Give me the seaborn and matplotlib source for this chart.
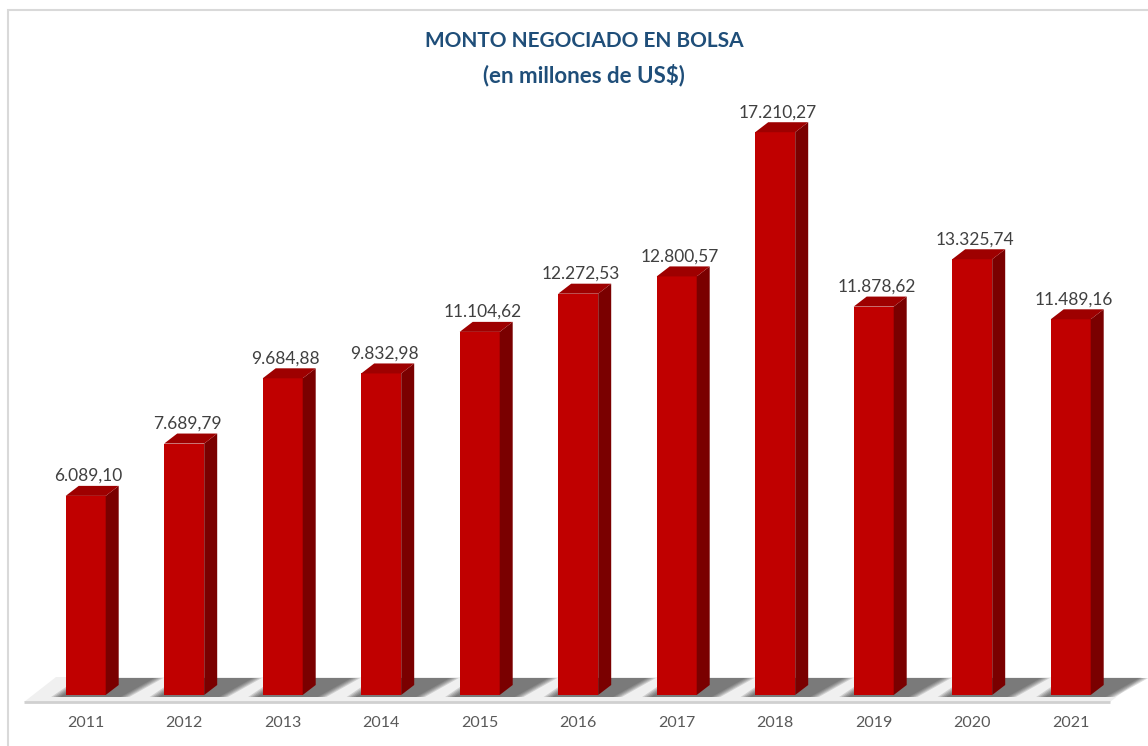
import matplotlib
matplotlib.use("Agg")
import matplotlib.pyplot as plt
import matplotlib.patches as mpatches
import seaborn as sns
import pandas as pd

# Data
years = ["2011", "2012", "2013", "2014", "2015", "2016", "2017", "2018", "2019", "2020", "2021"]
montos = [6089.10, 7689.79, 9684.88, 9832.98, 11104.62, 12272.53, 12800.57,
          17210.27, 11878.62, 13325.74, 11489.16]
labels = ["6.089,10", "7.689,79", "9.684,88", "9.832,98", "11.104,62", "12.272,53",
          "12.800,57", "17.210,27", "11.878,62", "13.325,74", "11.489,16"]

W, H = 1148, 746
PX_X = 98.5      # pixels per category
PX_Y = 0.0327    # pixels per unit
BASE = 51        # baseline, pixels from bottom

FRONT = "#C00000"
SIDE = "#7A0000"
TOP = "#9E0000"

sns.set_theme(style="white")
plt.rcParams["font.family"] = ["Lato", "DejaVu Sans"]

fig = plt.figure(figsize=(W / 100, H / 100), dpi=100)
ax = fig.add_axes([0, BASE / H, 1, 1 - BASE / H])

df = pd.DataFrame({"year": years, "monto": montos})
sns.barplot(data=df, x="year", y="monto", color=FRONT, saturation=1,
            width=40 / PX_X, ax=ax, zorder=3, linewidth=0)

ax.set_xlim(-85.7 / PX_X, (W - 85.7) / PX_X)
ax.set_ylim(0, (H - BASE) / PX_Y)

# pixel offsets converted to data units (depth of the 3D look)
ddx = 13 / PX_X
ddy = 10 / PX_Y

# floor
fy0, fy1 = -7 / PX_Y, 18 / PX_Y
fx0, fx1 = -61.7 / PX_X, (1110 - 85.7) / PX_X
slant = 32 / PX_X
floor = mpatches.Polygon([(fx0, fy0), (fx1, fy0), (fx1 + slant, fy1), (fx0 + slant, fy1)],
                         closed=True, facecolor="#f0f0f0", edgecolor="none",
                         clip_on=False, zorder=1)
ax.add_patch(floor)

# soft shadows behind each bar
for bar in ax.patches[:len(years)]:
    x0 = bar.get_x()
    x1 = x0 + bar.get_width()
    for k in range(5):
        grow = 0.022 * k
        sh = mpatches.Polygon([(x0 - 0.06 - grow, fy0 + 5 / PX_Y), (x1 + ddx + 0.02 + grow, fy0 + 5 / PX_Y),
                               (x1 + ddx + slant + 0.04 + grow, fy1 - 1 / PX_Y),
                               (x0 - 0.10 + slant - grow, fy1 - 1 / PX_Y)],
                              closed=True, facecolor="#303030", alpha=0.17,
                              edgecolor="none", clip_on=False, zorder=2)
        ax.add_patch(sh)

ax.plot([fx0, fx1], [fy0, fy0], color="#d0d0d0", lw=2, clip_on=False, zorder=2,
        solid_capstyle="butt")

# 3D faces
for bar, lab in zip(ax.patches[:len(years)], labels):
    x0 = bar.get_x()
    x1 = x0 + bar.get_width()
    h = bar.get_height()
    side = mpatches.Polygon([(x1, 0), (x1 + ddx, ddy), (x1 + ddx, h + ddy), (x1, h)],
                            closed=True, facecolor=SIDE, edgecolor="none", zorder=3)
    top = mpatches.Polygon([(x0, h), (x1, h), (x1 + ddx, h + ddy), (x0 + ddx, h + ddy)],
                           closed=True, facecolor=TOP, edgecolor="none", zorder=3)
    ax.add_patch(side)
    ax.add_patch(top)
    ax.text((x0 + x1) / 2 + 3 / PX_X, h + ddy + 2 / PX_Y, lab, ha="center", va="bottom",
            fontsize=12.5, color="#404040", zorder=4)

for s in ax.spines.values():
    s.set_visible(False)
ax.set_yticks([])
ax.set_xlabel("")
ax.set_ylabel("")
ax.tick_params(axis="x", length=0, pad=15, labelsize=11.5, labelcolor="#595959")
ax.patch.set_alpha(0)

# chart border
fig.add_artist(mpatches.Rectangle((8 / W, -0.1), 1.2, (H - 10) / H + 0.1,
                                  transform=fig.transFigure, fill=False,
                                  edgecolor="#d9d9d9", lw=1.5))

fig.text(584 / W, 1 - 47 / H, "MONTO NEGOCIADO EN BOLSA", ha="center", va="baseline",
         fontsize=15, fontweight="bold", color="#1F4E79")
fig.text(584 / W, 1 - 82 / H, "(en millones de US$)", ha="center", va="baseline",
         fontsize=16, fontweight="bold", color="#1F4E79")

fig.savefig("out.png", dpi=100)
